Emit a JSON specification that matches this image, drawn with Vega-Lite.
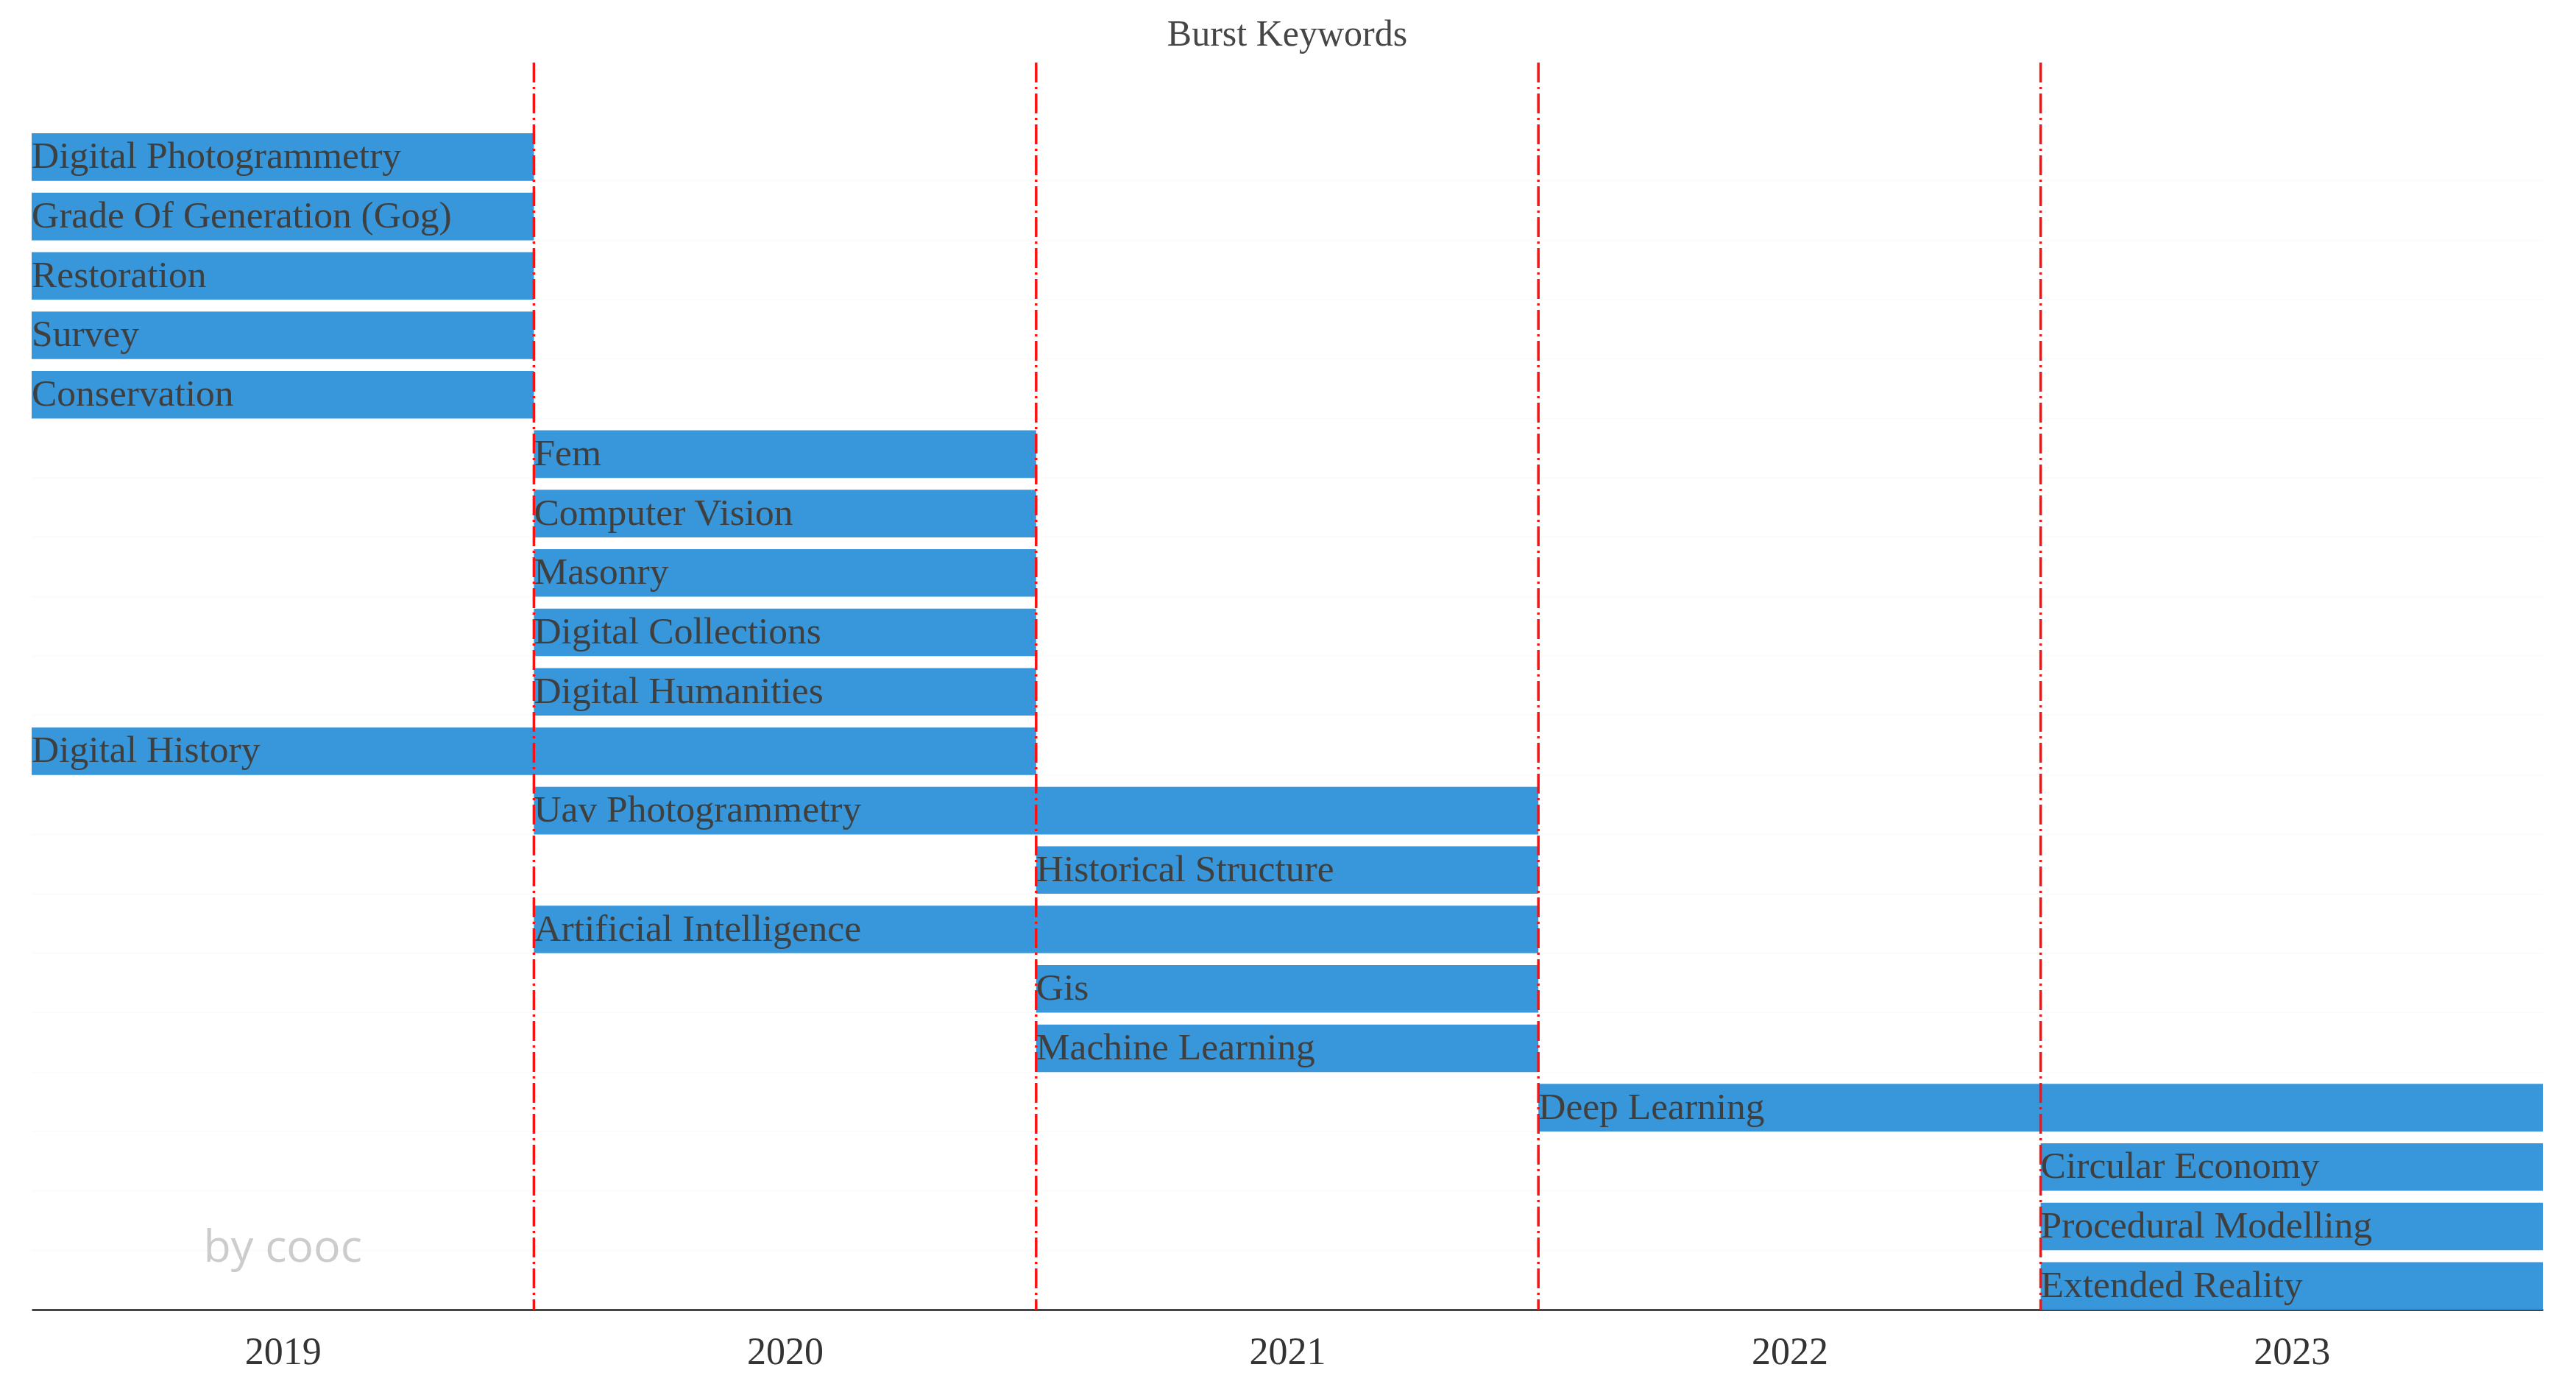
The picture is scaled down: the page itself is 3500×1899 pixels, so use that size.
{
  "$schema": "https://vega.github.io/schema/vega-lite/v6.json",
  "width": 3412,
  "height": 1694,
  "autosize": {"type": "none"},
  "padding": {"left": 43, "top": 85, "right": 45, "bottom": 120},
  "background": "white",
  "title": {
    "text": "Burst Keywords",
    "font": "Liberation Serif",
    "fontSize": 50,
    "fontWeight": "normal",
    "color": "#464646",
    "anchor": "middle",
    "baseline": "alphabetic",
    "offset": 22,
    "dy": 51
  },
  "config": {"view": {"stroke": null}},
  "datasets": {
    "bursts": [
      {"keyword": "Digital Photogrammetry", "begin": 2019, "end": 2019},
      {"keyword": "Grade Of Generation (Gog)", "begin": 2019, "end": 2019},
      {"keyword": "Restoration", "begin": 2019, "end": 2019},
      {"keyword": "Survey", "begin": 2019, "end": 2019},
      {"keyword": "Conservation", "begin": 2019, "end": 2019},
      {"keyword": "Fem", "begin": 2020, "end": 2020},
      {"keyword": "Computer Vision", "begin": 2020, "end": 2020},
      {"keyword": "Masonry", "begin": 2020, "end": 2020},
      {"keyword": "Digital Collections", "begin": 2020, "end": 2020},
      {"keyword": "Digital Humanities", "begin": 2020, "end": 2020},
      {"keyword": "Digital History", "begin": 2019, "end": 2020},
      {"keyword": "Uav Photogrammetry", "begin": 2020, "end": 2021},
      {"keyword": "Historical Structure", "begin": 2021, "end": 2021},
      {"keyword": "Artificial Intelligence", "begin": 2020, "end": 2021},
      {"keyword": "Gis", "begin": 2021, "end": 2021},
      {"keyword": "Machine Learning", "begin": 2021, "end": 2021},
      {"keyword": "Deep Learning", "begin": 2022, "end": 2023},
      {"keyword": "Circular Economy", "begin": 2023, "end": 2023},
      {"keyword": "Procedural Modelling", "begin": 2023, "end": 2023},
      {"keyword": "Extended Reality", "begin": 2023, "end": 2023}
    ],
    "separators": [
      {"boundary": 2019.5},
      {"boundary": 2020.5},
      {"boundary": 2021.5},
      {"boundary": 2022.5}
    ]
  },
  "layer": [
    {
      "data": {"name": "bursts"},
      "mark": {"type": "bar", "color": "#3797DA", "xOffset": -341.2, "x2Offset": 341.2},
      "encoding": {
        "x": {
          "field": "begin",
          "type": "quantitative",
          "scale": {"domain": [2018.5, 2023.5], "nice": false, "zero": false},
          "axis": {
            "values": [2019, 2020, 2021, 2022, 2023],
            "format": "d",
            "title": null,
            "grid": false,
            "ticks": false,
            "domainColor": "#444444",
            "domainWidth": 3,
            "labelFont": "Liberation Serif",
            "labelFontSize": 52,
            "labelColor": "#333333",
            "labelPadding": 32,
            "labelBaseline": "top"
          }
        },
        "x2": {"field": "end"},
        "y": {
          "field": "keyword",
          "type": "nominal",
          "sort": null,
          "scale": {"paddingInner": 0.2, "paddingOuter": 0.5955, "align": 1, "round": false},
          "axis": {
            "title": null,
            "labels": false,
            "ticks": false,
            "domain": false,
            "grid": true,
            "gridColor": "#fbfbfb",
            "gridWidth": 2,
            "bandPosition": 1
          }
        }
      }
    },
    {
      "data": {"name": "bursts"},
      "mark": {
        "type": "text",
        "align": "left",
        "baseline": "alphabetic",
        "dy": 15,
        "xOffset": -341.2,
        "font": "Liberation Serif",
        "fontSize": 51.5,
        "color": "#3f3f3f"
      },
      "encoding": {
        "x": {"field": "begin", "type": "quantitative"},
        "y": {"field": "keyword", "type": "nominal", "sort": null},
        "text": {"field": "keyword"}
      }
    },
    {
      "data": {"name": "separators"},
      "mark": {"type": "rule", "color": "#ff1010", "strokeWidth": 3.5, "strokeDash": [27, 6, 3, 6]},
      "encoding": {
        "x": {"field": "boundary", "type": "quantitative"}
      }
    },
    {
      "data": {"values": [{}]},
      "mark": {
        "type": "text",
        "text": "by cooc",
        "font": "Open Sans",
        "fontSize": 61,
        "color": "#cccccc",
        "align": "center",
        "baseline": "alphabetic",
        "dy": -33
      },
      "encoding": {
        "x": {"datum": 2019, "type": "quantitative"},
        "y": {"datum": "Extended Reality", "type": "nominal"}
      }
    }
  ]
}
